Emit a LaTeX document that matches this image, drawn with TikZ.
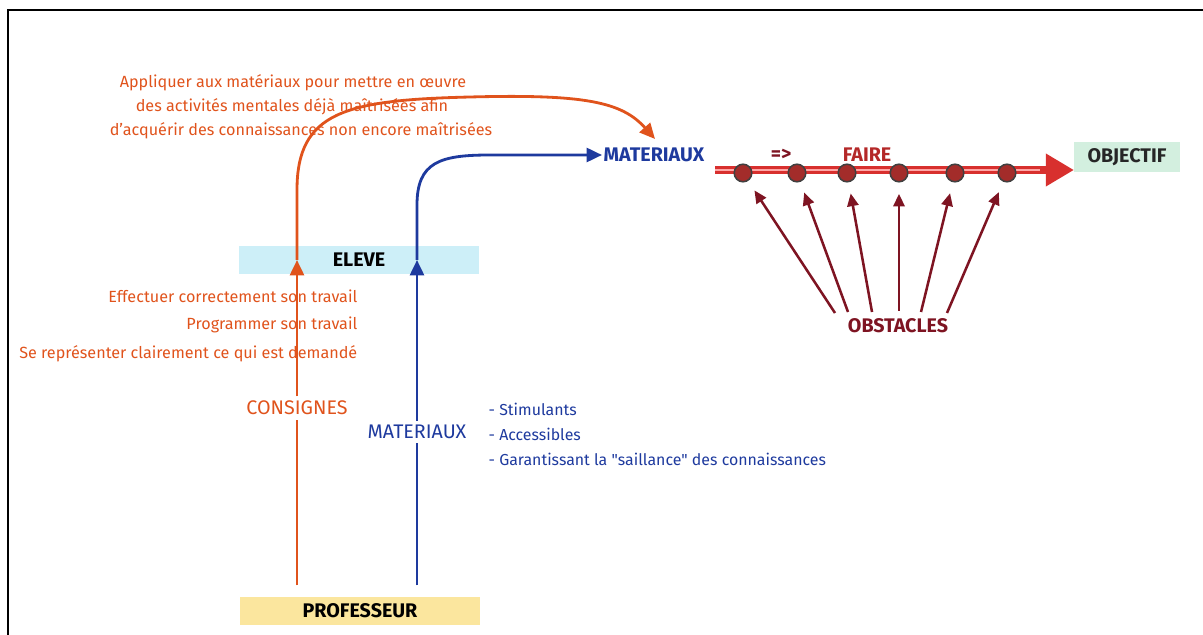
\documentclass[tikz,border=0pt]{standalone}
\usepackage{fontspec}
\setmainfont{Fira Sans}
% same family without the TeX quote mapping, for straight quotes
\newfontfamily\straightq{Fira Sans}
\usetikzlibrary{arrows.meta}
\definecolor{orangeRed}{HTML}{E0531C}
\definecolor{navy}{HTML}{1E3A9E}
\definecolor{maroon}{HTML}{7E1422}
\definecolor{fairered}{HTML}{B42828}
\definecolor{barblue}{HTML}{CDEFF8}
\definecolor{baryellow}{HTML}{FBE69E}
\definecolor{bargreen}{HTML}{D3EFDF}
\definecolor{shaftred}{HTML}{D8302E}
\definecolor{dotred}{HTML}{A32C2A}
\tikzset{
  capfont/.style={font=\fontsize{14}{16}\selectfont\bfseries},
  bar/.style={minimum width=170pt, minimum height=20pt, inner sep=0pt,
    capfont, text=black},
  otext/.style={text=orangeRed, font=\fontsize{11.5}{13}\selectfont, inner sep=1pt},
  btext/.style={text=navy, font=\fontsize{11.3}{13}\selectfont, inner sep=1pt},
  oline/.style={draw=orangeRed, line width=2pt},
  bline/.style={draw=navy, line width=2pt},
  otip/.style={-{Triangle[length=11pt,width=10pt]}},
  obsarrow/.style={draw=maroon, line width=1.8pt, -{Triangle[length=9pt,width=8pt]}, shorten >=8pt},
  dot/.style={circle, draw=black!75, line width=1.1pt, fill=dotred, minimum width=12.5pt, inner sep=0pt}
}
\begin{document}
\begin{tikzpicture}[x=0.025cm,y=-0.025cm]
\useasboundingbox (0,0) rectangle (1203,635);
% frame
\draw[line width=1.4pt] (8,635) -- (8,10) -- (1203,10);

% bars
\node[bar, fill=barblue] (eleve) at (359,260) {ELEVE};
\node[bar, fill=baryellow] (prof) at (360,611) {PROFESSEUR};
\node[minimum width=75pt, minimum height=22pt, inner sep=0pt, fill=bargreen,
      capfont, text=black!85] (objectif) at (1127,157) {OBJECTIF};

% labels on the vertical lines
\node[otext, fill=white, font=\fontsize{14}{16}\selectfont, inner sep=3pt] (consignes) at (297,408) {CONSIGNES};
\node[btext, fill=white, font=\fontsize{14}{16}\selectfont, inner sep=3pt] (matLow) at (417,432) {MATERIAUX};

% orange texts
\node[otext] (app1) at (293,83) {Appliquer aux matériaux pour mettre en œuvre};
\node[otext] (app2) at (292,107) {des activités mentales déjà maîtrisées afin};
\node[otext] (app3) at (301,131) {d'acquérir des connaissances non encore maîtrisées};
\node[otext, anchor=east] (t1) at (359,296) {Effectuer correctement son travail};
\node[otext, anchor=east] (t2) at (359,325) {Programmer son travail};
\node[otext, anchor=east] (t3) at (359,354) {Se représenter clairement ce qui est demandé};

% blue list
\node[btext, anchor=west] (l1) at (487,409) {- Stimulants};
\node[btext, anchor=west] (l2) at (487,434) {- Accessibles};
\node[btext, anchor=west] (l3) at (487,459) {- Garantissant la {\straightq "}saillance{\straightq "} des connaissances};

% top labels
\node[btext, capfont, anchor=west] (matTop) at (602,155) {MATERIAUX};
\node[text=maroon, capfont] (faireArrow) at (781,155) {=>};
\node[text=fairered, capfont] (faire) at (867,155) {FAIRE};

% orange path: professeur -> eleve -> materiaux
\draw[oline, shorten <=8pt] (prof.north -| consignes) -- (consignes.south);
\draw[oline, otip] (consignes.north) -- (eleve.center -| consignes);
\coordinate (oEnd) at (655,139);
\draw[oline, otip] (eleve.center -| consignes) -- (297,190)
  .. controls (297,112) and (345,100) .. (470,97)
  .. controls (585,94) and (622,102) .. (oEnd);

% blue path: professeur -> eleve -> materiaux
\draw[bline, shorten <=8pt] (prof.north -| matLow) -- (matLow.south);
\draw[bline, otip] (matLow.north) -- (eleve.center -| matLow);
\draw[bline, otip] (eleve.center -| matLow) -- (417,205)
  .. controls (417,162) and (440,155) .. (490,155) -- (matTop.west);

% thick red arrow towards the objective
\coordinate (rs) at (715,170);
\draw[line width=6pt, draw=shaftred, -{Triangle[length=20pt,width=22pt]}] (rs) -- (objectif.west |- rs);
\draw[line width=1.2pt, draw=red!35] (rs) -- (1040,170);

% obstacle points on the arrow
\foreach \i/\x in {1/743,2/797,3/847,4/899,5/955,6/1007}
  \node[dot] (c\i) at (\x,173) {};

% obstacles
\node[text=maroon, capfont] (obstacles) at (898,326) {OBSTACLES};
\coordinate (s1) at (835,313);
\coordinate (s2) at (848,312);
\coordinate (s3) at (872,312);
\coordinate (s4) at (899,311);
\coordinate (s5) at (921,312);
\coordinate (s6) at (947,313);
\foreach \i in {1,...,6}
  \draw[obsarrow] (s\i) -- (c\i);
\end{tikzpicture}
\end{document}
